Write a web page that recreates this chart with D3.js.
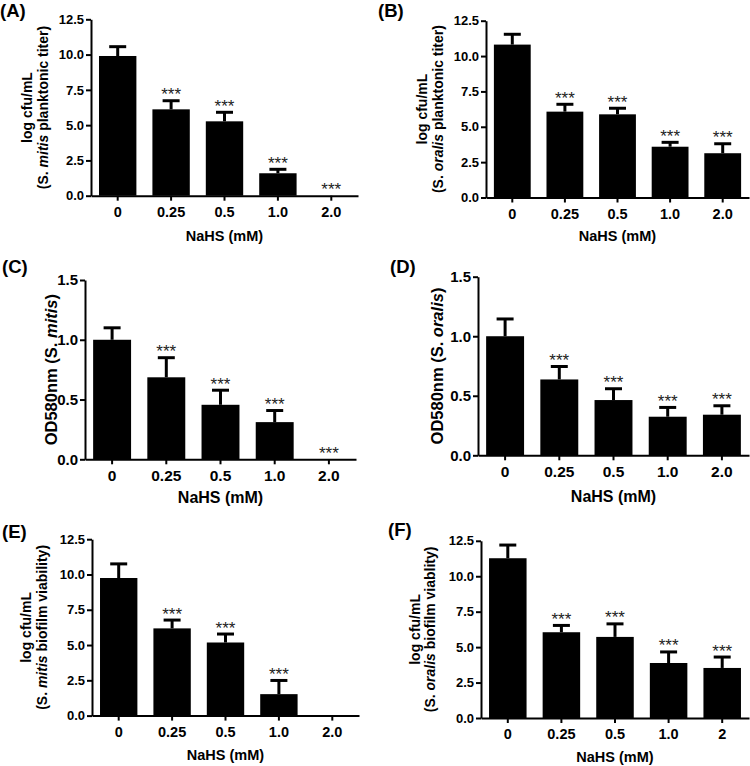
<!DOCTYPE html>
<html>
<head>
<meta charset="utf-8">
<script src="https://cdn.jsdelivr.net/npm/d3@7"></script>
<style>
  html, body { margin: 0; padding: 0; background: #fff; }
  svg { display: block; font-family: "Liberation Sans", Arial, sans-serif; }
</style>
</head>
<body>
<svg id="chart" width="750" height="766"></svg>
<script>
// ---------------- data ----------------
const doseLabels = ["0", "0.25", "0.5", "1.0", "2.0"];
const doseLabelsF = ["0", "0.25", "0.5", "1.0", "2"];

const logTicks = [0, 2.5, 5, 7.5, 10, 12.5];
const odTicks = [0, 0.5, 1.0, 1.5];

// (A) S. mitis planktonic titer (log cfu/mL)
const mitisPlanktonic    = [9.90, 6.12, 5.27, 1.59, 0];
const mitisPlanktonicErr = [0.66, 0.61, 0.64, 0.28, 0];
const mitisPlanktonicSig = ["", "***", "***", "***", "***"];

// (B) S. oralis planktonic titer (log cfu/mL)
const oralisPlanktonic    = [10.81, 6.07, 5.88, 3.59, 3.13];
const oralisPlanktonicErr = [0.73, 0.52, 0.43, 0.31, 0.67];
const oralisPlanktonicSig = ["", "***", "***", "***", "***"];

// (C) OD580nm S. mitis
const mitisOD    = [1.00, 0.686, 0.456, 0.311, 0];
const mitisODErr = [0.10, 0.164, 0.122, 0.097, 0];
const mitisODSig = ["", "***", "***", "***", "***"];

// (D) OD580nm S. oralis
const oralisOD    = [1.00, 0.637, 0.464, 0.324, 0.341];
const oralisODErr = [0.145, 0.109, 0.095, 0.078, 0.075];
const oralisODSig = ["", "***", "***", "***", "***"];

// (E) S. mitis biofilm viability (log cfu/mL)
const mitisBiofilm    = [9.75, 6.18, 5.18, 1.52, 0];
const mitisBiofilmErr = [1.00, 0.59, 0.60, 0.97, 0];
const mitisBiofilmSig = ["", "***", "***", "***", ""];

// (F) S. oralis biofilm viability (log cfu/mL)
const oralisBiofilm    = [11.27, 6.05, 5.72, 3.88, 3.53];
const oralisBiofilmErr = [0.93, 0.48, 0.92, 0.78, 0.77];
const oralisBiofilmSig = ["", "***", "***", "***", "***"];

// ---------------- panels (data + layout) ----------------
const fontsSmall = { yTick: 13, xTick: 14.5, xTitle: 14.5, yTitle: 14 };
const fontsLarge = { yTick: 15, xTick: 15.5, xTitle: 16, yTitle: 16.5 };

const panels = [
  { tag: "(A)", cats: doseLabels, vals: mitisPlanktonic, errs: mitisPlanktonicErr, sig: mitisPlanktonicSig,
    yMax: 12.5, ticks: logTicks, title: ["log cfu/mL", ["(S. ", "mitis", " planktonic titer)"]], fs: fontsSmall,
    x0: 91, x1: 358, yTop: 19.3, yBot: 195.7, tagX: 0, tagY: 17, titleX: [32, 48], xTitleY: 241 },
  { tag: "(B)", cats: doseLabels, vals: oralisPlanktonic, errs: oralisPlanktonicErr, sig: oralisPlanktonicSig,
    yMax: 12.5, ticks: logTicks, title: ["log cfu/mL", ["(S. ", "oralis", " planktonic titer)"]], fs: fontsSmall,
    x0: 486, x1: 749, yTop: 20.7, yBot: 197.5, tagX: 378, tagY: 17, titleX: [427, 443], xTitleY: 241 },
  { tag: "(C)", cats: doseLabels, vals: mitisOD, errs: mitisODErr, sig: mitisODSig,
    yMax: 1.5, ticks: odTicks, title: [["OD580nm (S. ", "mitis", ")"]], fs: fontsLarge,
    x0: 85, x1: 356, yTop: 280, yBot: 459.3, tagX: 2, tagY: 273, titleX: [57], xTitleY: 503 },
  { tag: "(D)", cats: doseLabels, vals: oralisOD, errs: oralisODErr, sig: oralisODSig,
    yMax: 1.5, ticks: odTicks, title: [["OD580nm (S. ", "oralis", ")"]], fs: fontsLarge,
    x0: 478, x1: 749, yTop: 276.7, yBot: 455.3, tagX: 390, tagY: 273, titleX: [443], xTitleY: 501.5 },
  { tag: "(E)", cats: doseLabels, vals: mitisBiofilm, errs: mitisBiofilmErr, sig: mitisBiofilmSig,
    yMax: 12.5, ticks: logTicks, title: ["log cfu/mL", ["(S. ", "mitis", " biofilm viability)"]], fs: fontsSmall,
    x0: 92, x1: 359, yTop: 539.2, yBot: 715.6, tagX: 2, tagY: 538, titleX: [31, 47], xTitleY: 760 },
  { tag: "(F)", cats: doseLabelsF, vals: oralisBiofilm, errs: oralisBiofilmErr, sig: oralisBiofilmSig,
    yMax: 12.5, ticks: logTicks, title: ["log cfu/mL", ["(S. ", "oralis", " biofilm viablity)"]], fs: fontsSmall,
    x0: 481, x1: 749, yTop: 540.8, yBot: 718, tagX: 388, tagY: 536, titleX: [420, 435], xTitleY: 761.5 }
];

const svg = d3.select("#chart");

panels.forEach(p => {
  const g = svg.append("g");
  const x = d3.scaleBand().domain(p.cats).range([p.x0, p.x1]).paddingInner(0.3).paddingOuter(0.15);
  const y = d3.scaleLinear().domain([0, p.yMax]).range([p.yBot, p.yTop]);
  const data = p.cats.map((c, i) => ({ c, v: p.vals[i], e: p.errs[i], s: p.sig[i] }));

  // bars
  g.selectAll("rect.bar").data(data).join("rect")
    .attr("class", "bar")
    .attr("x", d => x(d.c))
    .attr("width", x.bandwidth())
    .attr("y", d => y(d.v))
    .attr("height", d => y(0) - y(d.v))
    .attr("fill", "#000");

  // error bars (upper only)
  const eb = data.filter(d => d.e > 0);
  g.selectAll("line.err").data(eb).join("line")
    .attr("x1", d => x(d.c) + x.bandwidth() / 2)
    .attr("x2", d => x(d.c) + x.bandwidth() / 2)
    .attr("y1", d => y(d.v))
    .attr("y2", d => y(d.v + d.e))
    .attr("stroke", "#000").attr("stroke-width", 3);
  g.selectAll("line.cap").data(eb).join("line")
    .attr("x1", d => x(d.c) + x.bandwidth() / 2 - 8.5)
    .attr("x2", d => x(d.c) + x.bandwidth() / 2 + 8.5)
    .attr("y1", d => y(d.v + d.e))
    .attr("y2", d => y(d.v + d.e))
    .attr("stroke", "#000").attr("stroke-width", 3);

  // significance stars
  g.selectAll("text.sig").data(data.filter(d => d.s)).join("text")
    .attr("x", d => x(d.c) + x.bandwidth() / 2)
    .attr("y", d => y(d.v + d.e) - 0.5)
    .attr("text-anchor", "middle")
    .attr("font-size", 17)
    .attr("fill", "#222")
    .text(d => d.s);

  // axes
  const yAxis = d3.axisLeft(y).tickValues(p.ticks).tickFormat(d3.format(".1f"))
    .tickSize(5).tickSizeOuter(0).tickPadding(2);
  const ya = g.append("g").attr("transform", `translate(${p.x0},0)`).call(yAxis);
  ya.selectAll("text").attr("font-size", p.fs.yTick).attr("font-weight", "bold").attr("fill", "#000")
    .attr("font-family", "Liberation Sans, Arial, sans-serif");

  const xAxis = d3.axisBottom(x).tickSize(5).tickSizeOuter(0).tickPadding(6);
  const xa = g.append("g").attr("transform", `translate(0,${p.yBot})`).call(xAxis);
  xa.selectAll("text").attr("font-size", p.fs.xTick).attr("font-weight", "bold").attr("fill", "#000")
    .attr("font-family", "Liberation Sans, Arial, sans-serif");

  [ya, xa].forEach(a => {
    a.select(".domain").attr("stroke", "#000").attr("stroke-width", 2);
    a.selectAll(".tick line").attr("stroke", "#000").attr("stroke-width", 2);
  });

  // x title
  g.append("text")
    .attr("x", (p.x0 + p.x1) / 2)
    .attr("y", p.xTitleY)
    .attr("text-anchor", "middle")
    .attr("font-size", p.fs.xTitle).attr("font-weight", "bold")
    .text("NaHS (mM)");

  // y title (rotated)
  const yc = (p.yTop + p.yBot) / 2;
  p.title.forEach((line, i) => {
    const t = g.append("text")
      .attr("transform", `translate(${p.titleX[i]},${yc}) rotate(-90)`)
      .attr("text-anchor", "middle")
      .attr("font-size", p.fs.yTitle).attr("font-weight", "bold");
    if (typeof line === "string") {
      t.text(line);
    } else {
      line.forEach((part, j) => {
        t.append("tspan").attr("font-style", j === 1 ? "italic" : "normal").text(part);
      });
    }
  });

  // panel tag
  g.append("text")
    .attr("x", p.tagX).attr("y", p.tagY)
    .attr("font-size", 18.5).attr("font-weight", "bold")
    .text(p.tag);
});
</script>
</body>
</html>
